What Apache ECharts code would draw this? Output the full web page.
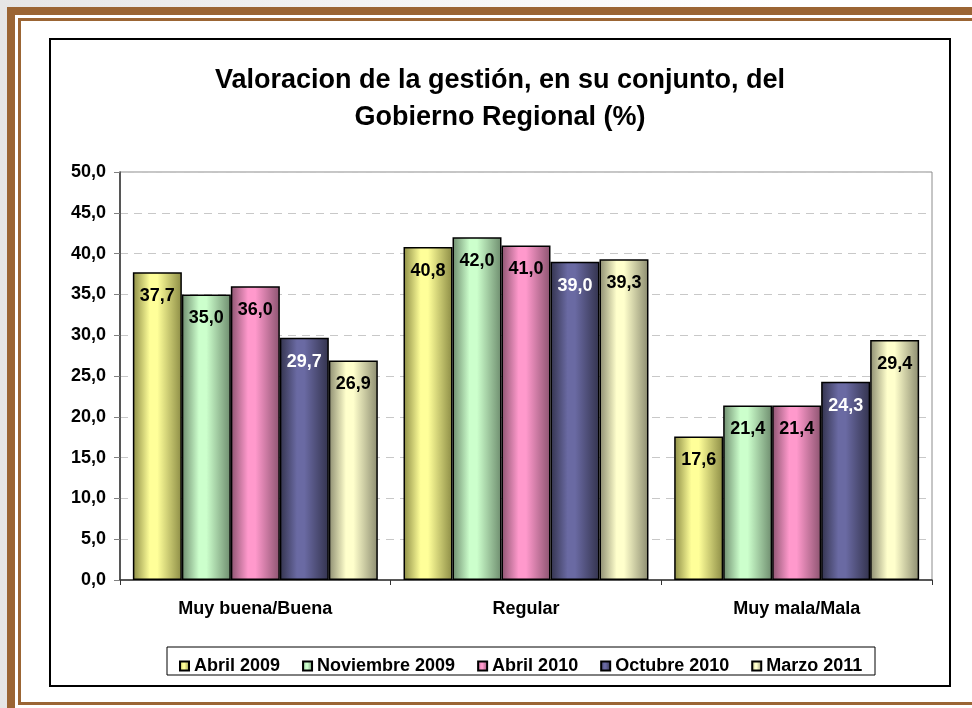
<!DOCTYPE html>
<html>
<head>
<meta charset="utf-8">
<script src="https://cdn.jsdelivr.net/npm/echarts@6/dist/echarts.min.js"></script>
<style>
html, body { margin: 0; padding: 0; }
body { width: 972px; height: 708px; overflow: hidden; position: relative;
	background: linear-gradient(to right, #e6e6e6, #f4f4f4 40%, #ffffff 80%); }
#frameA { position: absolute; left: 7px; top: 7px; width: 1000px; height: 760px;
	border-top: 8px solid #9b6534; border-left: 8px solid #9b6534; background: #fff; }
#frameB { position: absolute; left: 18px; top: 18px; width: 1000px; height: 681px;
	border-top: 3px solid #9b6534; border-left: 3px solid #9b6534; border-bottom: 3px solid #9b6534; }
#box { position: absolute; left: 49px; top: 38px; width: 902px; height: 649px; box-sizing: border-box;
	border: 2px solid #000; background: #fff; }
#chart { position: absolute; left: 0; top: 0; width: 972px; height: 708px; }
</style>
</head>
<body>
<div id="frameA"></div>
<div id="frameB"></div>
<div id="box"></div>
<div id="chart"></div>
<script>
var categories = ['Muy buena/Buena', 'Regular', 'Muy mala/Mala'];
var periods = ['Abril 2009', 'Noviembre 2009', 'Abril 2010', 'Octubre 2010', 'Marzo 2011'];
var abril2009 = [37.7, 40.8, 17.6];
var noviembre2009 = [35.0, 42.0, 21.4];
var abril2010 = [36.0, 41.0, 21.4];
var octubre2010 = [29.7, 39.0, 24.3];
var marzo2011 = [26.9, 39.3, 29.4];
var yMin = 0, yMax = 50, yStep = 5;

var seriesData = [abril2009, noviembre2009, abril2010, octubre2010, marzo2011];
// light / dark tones for the cylinder-like shading
var tones = [
	['#ffff99', '#8c8c45'],
	['#ccffcc', '#6e8c6e'],
	['#ff99cc', '#8c5470'],
	['#6a6aa3', '#33334d'],
	['#ffffcc', '#8c8c70']
];
var labelColors = ['#000', '#000', '#000', '#fff', '#000'];
var font = 'Liberation Sans';

function shade(t) {
	return {
		type: 'linear', x: 0, y: 0, x2: 1, y2: 0,
		colorStops: [
			{offset: 0, color: t[1]},
			{offset: 0.35, color: t[0]},
			{offset: 0.5, color: t[0]},
			{offset: 1, color: t[1]}
		]
	};
}

function fmt(v) {
	return v.toFixed(1).replace('.', ',');
}

var series = [];
for (var i = 0; i < periods.length; i++) {
	series.push({
		name: periods[i],
		type: 'bar',
		data: seriesData[i],
		barGap: '0%',
		barCategoryGap: '9.5%',
		itemStyle: {
			color: shade(tones[i]),
			borderColor: '#000',
			borderWidth: 1.5
		},
		label: {
			show: true,
			position: 'insideTop',
			distance: 15,
			color: labelColors[i],
			fontFamily: font,
			fontWeight: 'bold',
			fontSize: 18,
			formatter: function (p) { return fmt(p.value); }
		}
	});
}

var myChart = echarts.init(document.getElementById('chart'), null, {renderer: 'canvas'});
myChart.setOption({
	animation: false,
	backgroundColor: 'transparent',
	textStyle: {fontFamily: font},
	graphic: [
		{
			type: 'text',
			x: 500, y: 99,
			style: {
				text: 'Valoracion de la gestión, en su conjunto, del\nGobierno Regional (%)',
				font: 'bold 27px "Liberation Sans"',
				fill: '#000',
				textAlign: 'center',
				textVerticalAlign: 'middle',
				lineHeight: 37
			}
		},
		{
			type: 'rect',
			shape: {x: 167, y: 647, width: 708, height: 28},
			style: {fill: 'none', stroke: '#000', lineWidth: 1},
			z: 0
		}
	],
	grid: {
		left: 120, top: 172, right: 40, bottom: 128,
		show: true, borderColor: '#8c8c8c', borderWidth: 1
	},
	legend: {
		data: periods,
		left: 174, top: 652,
		itemWidth: 9, itemHeight: 9,
		itemGap: 22,
		icon: 'rect',
		textStyle: {fontFamily: font, fontWeight: 'bold', fontSize: 18, color: '#000'}
	},
	xAxis: {
		type: 'category',
		data: categories,
		axisLine: {lineStyle: {color: '#333', width: 1.5}},
		axisTick: {show: true, length: 5, lineStyle: {color: '#333'}},
		axisLabel: {margin: 20, fontFamily: font, fontWeight: 'bold', fontSize: 18, color: '#000'}
	},
	yAxis: {
		type: 'value',
		min: yMin, max: yMax, interval: yStep,
		axisLine: {show: true, lineStyle: {color: '#333', width: 1.5}},
		axisTick: {show: true, length: 6, lineStyle: {color: '#808080'}},
		axisLabel: {margin: 14, fontFamily: font, fontWeight: 'bold', fontSize: 18, color: '#000',
			formatter: function (v) { return fmt(v); }},
		splitLine: {lineStyle: {color: '#c8c8c8', type: [8, 6]}}
	},
	series: series
});
</script>
</body>
</html>
